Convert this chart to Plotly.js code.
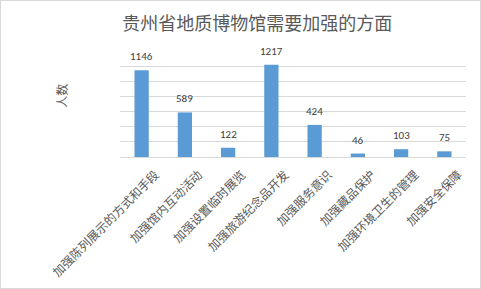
<!DOCTYPE html>
<html>
<head>
<meta charset="utf-8">
<script src="https://cdn.plot.ly/plotly-3.0.1.min.js"></script>
<style>
html,body{margin:0;padding:0;background:#fff;}
#chart{width:481px;height:289px;box-sizing:border-box;border:1px solid #d9d9d9;}
</style>
</head>
<body>
<div id="chart"></div>
<script>
var categories = ["加强陈列展示的方式和手段","加强馆内互动活动","加强设置临时展览","加强旅游纪念品开发","加强服务意识","加强藏品保护","加强环境卫生的管理","加强安全保障"];
var values = [1146, 589, 122, 1217, 424, 46, 103, 75];
var chartTitle = "贵州省地质博物馆需要加强的方面";
var yTitle = "人数";

var font = "'Noto Sans CJK SC', 'Microsoft YaHei', sans-serif";

var annotations = categories.map(function(c, i){
  return {x: c, y: values[i], xref: 'x', yref: 'y', text: String(values[i]),
    showarrow: false, yanchor: 'bottom', yshift: 5,
    font: {family: "Calibri, 'Liberation Sans', 'DejaVu Sans', sans-serif", size: 11, color: '#404040'}};
});
annotations.push({xref: 'paper', yref: 'paper', x: -0.17, y: 0.58, text: yTitle,
  textangle: -90, showarrow: false, xanchor: 'center', yanchor: 'middle',
  font: {family: font, size: 12, color: '#595959'}});

var data = [{
  type: 'bar', x: categories, y: values,
  marker: {color: '#5b9bd5'}, width: 0.33,
  hoverinfo: 'none'
}];

var layout = {
  width: 479, height: 287,
  margin: {l: 119, r: 14, t: 50, b: 131},
  paper_bgcolor: '#fff', plot_bgcolor: '#fff',
  title: {text: chartTitle, font: {family: font, size: 18, color: '#595959'},
    x: 0.535, xref: 'container', xanchor: 'center', y: 0.92, yref: 'container', yanchor: 'middle'},
  xaxis: {tickangle: -45, tickfont: {family: font, size: 12, color: '#595959'},
    ticklabelshift: 14, ticklabelstandoff: 5,
    showline: true, linecolor: '#d9d9d9', linewidth: 1, ticks: '', showgrid: false},
  yaxis: {range: [0, 1400], dtick: 200, showticklabels: false, gridcolor: '#d9d9d9',
    zeroline: true, zerolinecolor: '#d9d9d9', ticks: '', showline: false},
  annotations: annotations,
  showlegend: false,
  font: {family: font}
};
Plotly.newPlot('chart', data, layout, {displayModeBar: false, staticPlot: true});
</script>
</body>
</html>
